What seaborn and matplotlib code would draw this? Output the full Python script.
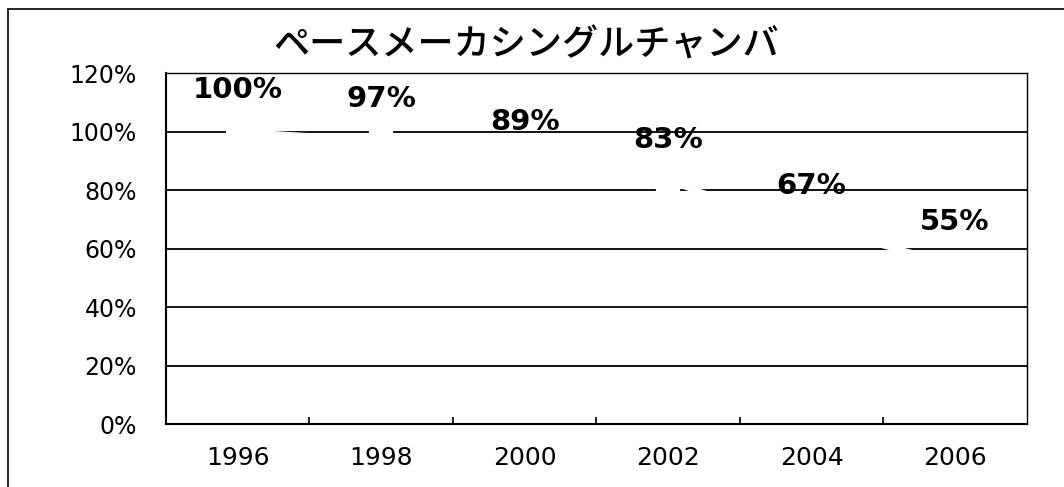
import matplotlib
matplotlib.use("Agg")
import matplotlib.pyplot as plt
from matplotlib.ticker import PercentFormatter, FixedLocator
from matplotlib.lines import Line2D
import seaborn as sns
import pandas as pd

# ---- data ----
years = ["1996", "1998", "2000", "2002", "2004", "2006"]
values = [100, 97, 89, 83, 67, 55]
labels = ["100%", "97%", "89%", "83%", "67%", "55%"]
title = "ペースメーカシングルチャンバ"
y_ticks = [0, 20, 40, 60, 80, 100, 120]

sns.set_theme(style="white")
plt.rcParams["font.family"] = ["DejaVu Sans", "Noto Sans CJK JP"]

df = pd.DataFrame({"year": years, "value": values})

fig = plt.figure(figsize=(10.64, 4.87), dpi=100)
ax = fig.add_axes([0.156, 0.129, 0.809, 0.721])

ax.set_ylim(0, 120)
ax.set_yticks(y_ticks)
ax.yaxis.grid(True, color="black", linewidth=1.3)
ax.set_axisbelow(True)

# invisible (white) series line, as in the reference
sns.pointplot(data=df, x="year", y="value", ax=ax, color="white",
              markers="s", markersize=14, linewidth=4, errorbar=None,
              zorder=3)
ax.set_xlim(-0.5, len(years) - 0.5)

for i, (v, lab) in enumerate(zip(values, labels)):
    ax.annotate(lab, xy=(i, v), xytext=(0, 30), textcoords="offset points",
                ha="center", va="center", fontsize=21, fontweight="bold",
                color="black", zorder=5)

ax.yaxis.set_major_formatter(PercentFormatter(xmax=100, decimals=0))
ax.tick_params(axis="y", length=0, pad=21, labelsize=17, labelcolor="black")
ax.tick_params(axis="x", which="major", length=0, pad=16, labelsize=18,
               labelcolor="black")
ax.xaxis.set_minor_locator(FixedLocator([i + 0.5 for i in range(len(years) - 1)]))
ax.tick_params(axis="x", which="minor", direction="in", length=5, width=1.2,
               color="black", bottom=True)
ax.set_xlabel("")
ax.set_ylabel("")

for s in ax.spines.values():
    s.set_visible(True)
    s.set_color("black")
ax.spines["left"].set_linewidth(1.5)
ax.spines["bottom"].set_linewidth(1.5)
ax.spines["top"].set_linewidth(1.0)
ax.spines["right"].set_linewidth(1.0)

fig.text(0.495, 0.906, title, ha="center", va="center", fontsize=26,
         fontweight="medium",
         family=["Noto Sans CJK JP", "DejaVu Sans"], color="black")

# outer frame (top and left edges only visible)
fig.add_artist(Line2D([0.0075, 1.0], [0.981, 0.981], transform=fig.transFigure,
                      color="black", linewidth=1.2))
fig.add_artist(Line2D([0.0075, 0.0075], [0.0, 0.981], transform=fig.transFigure,
                      color="black", linewidth=1.2))

fig.savefig("out.png", dpi=100)
